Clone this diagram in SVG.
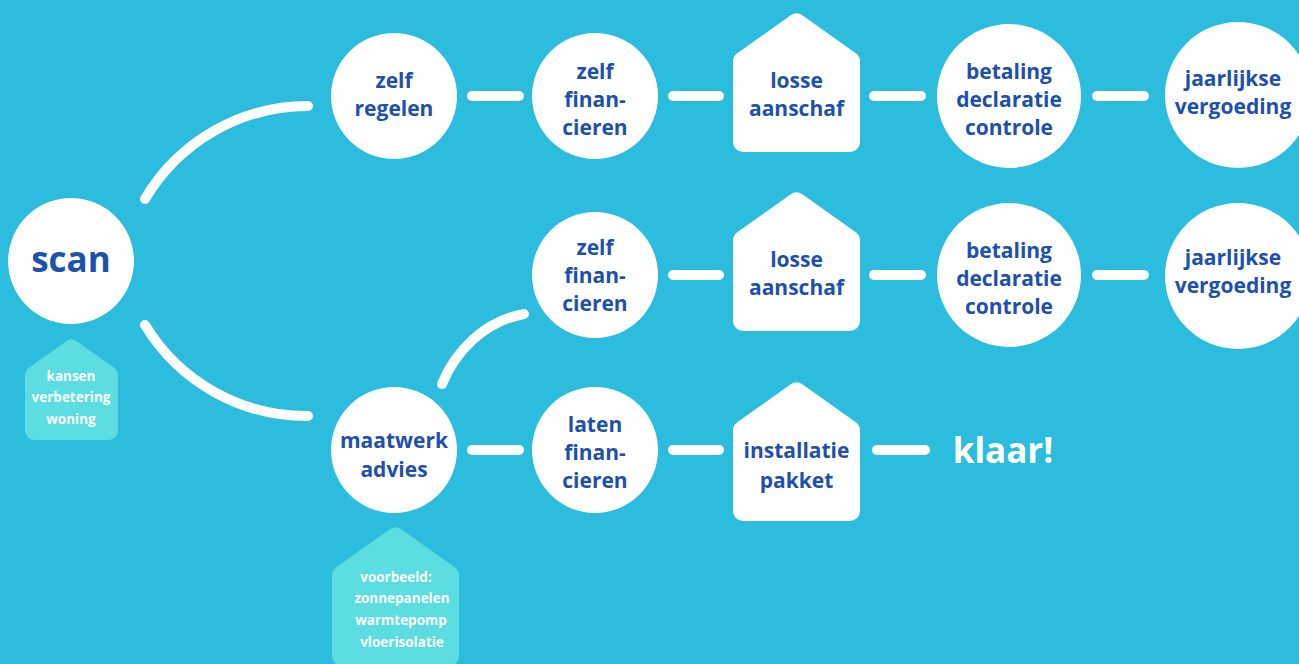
<svg xmlns="http://www.w3.org/2000/svg" xmlns:xlink="http://www.w3.org/1999/xlink" width="1299" height="664" viewBox="0 0 1299 664">
<style>
.bg{fill:#2bbcde}
.node{fill:#ffffff}
.hs{fill:#ffffff;stroke:#ffffff}
.lh{fill:#5bdde2;stroke:#5bdde2}
.t{font-family:"Open Sans","Noto Sans","Liberation Sans",sans-serif;font-weight:700;font-size:21px;fill:#1e50ad;text-anchor:middle}
.s{font-family:"Open Sans","Noto Sans","Liberation Sans",sans-serif;font-weight:700;font-size:13.5px;fill:#ffffff;text-anchor:middle}
.big{font-family:"Open Sans","Noto Sans","Liberation Sans",sans-serif;font-weight:700;font-size:35px;text-anchor:middle}
.c{fill:none;stroke:#ffffff;stroke-width:10;stroke-linecap:round}
</style>
<defs>
<path id="house" d="M10,48.5 L63.5,10.5 L117,48.5 L117,129 L10,129 Z" stroke-width="20" stroke-linejoin="round"/>
<path id="shouse" d="M9,36 L46.5,9.5 L84,36 L84,92 L9,92 Z" stroke-width="18" stroke-linejoin="round"/>
</defs>
<rect class="bg" x="0" y="0" width="1299" height="664"/>
<g id="connectors">
<path class="c" d="M145,199 A189,189 0 0 1 308,106"/>
<path class="c" d="M145,325 A189,189 0 0 0 308,416"/>
<path class="c" d="M442,384 C455,352 484,321 524,314"/>
<line class="c" x1="472" y1="96" x2="519" y2="96"/>
<line class="c" x1="673" y1="96" x2="719" y2="96"/>
<line class="c" x1="874" y1="96" x2="921" y2="96"/>
<line class="c" x1="1097" y1="96" x2="1144" y2="96"/>
<line class="c" x1="673" y1="275" x2="719" y2="275"/>
<line class="c" x1="874" y1="275" x2="921" y2="275"/>
<line class="c" x1="1097" y1="275" x2="1144" y2="275"/>
<line class="c" x1="472" y1="450" x2="519" y2="450"/>
<line class="c" x1="673" y1="450" x2="719" y2="450"/>
<line class="c" x1="877" y1="450" x2="925" y2="450"/>
</g>
<g id="scan">
<circle class="node" cx="71" cy="261" r="63"/>
<text class="big" x="71" y="272" fill="#1e50ad">scan</text>
</g>
<g id="kansen">
<use xlink:href="#shouse" class="lh" x="25" y="339"/>
<text class="s" x="71" y="381">kansen</text>
<text class="s" x="71" y="402">verbetering</text>
<text class="s" x="71" y="424">woning</text>
</g>
<g id="zelf-regelen">
<circle class="node" cx="394" cy="96" r="63"/>
<text class="t" x="394" y="88">zelf</text>
<text class="t" x="394" y="116">regelen</text>
</g>
<g id="zelf-financieren-1">
<circle class="node" cx="595" cy="96" r="63"/>
<text class="t" x="595" y="79">zelf</text>
<text class="t" x="595" y="107">finan-</text>
<text class="t" x="595" y="135">cieren</text>
</g>
<g id="losse-aanschaf-1">
<use xlink:href="#house" class="hs" x="733" y="13"/>
<text class="t" x="796.5" y="88">losse</text>
<text class="t" x="796.5" y="116">aanschaf</text>
</g>
<g id="betaling-1">
<circle class="node" cx="1009" cy="96" r="72"/>
<text class="t" x="1009" y="79">betaling</text>
<text class="t" x="1009" y="107">declaratie</text>
<text class="t" x="1009" y="135">controle</text>
</g>
<g id="jaarlijkse-1">
<circle class="node" cx="1238" cy="95" r="73"/>
<text class="t" x="1233" y="86">jaarlijkse</text>
<text class="t" x="1233" y="114">vergoeding</text>
</g>
<g id="zelf-financieren-2">
<circle class="node" cx="595" cy="275" r="63"/>
<text class="t" x="595" y="255">zelf</text>
<text class="t" x="595" y="283">finan-</text>
<text class="t" x="595" y="311">cieren</text>
</g>
<g id="losse-aanschaf-2">
<use xlink:href="#house" class="hs" x="733" y="192"/>
<text class="t" x="796.5" y="267">losse</text>
<text class="t" x="796.5" y="295">aanschaf</text>
</g>
<g id="betaling-2">
<circle class="node" cx="1009" cy="275" r="72"/>
<text class="t" x="1009" y="258">betaling</text>
<text class="t" x="1009" y="286">declaratie</text>
<text class="t" x="1009" y="314">controle</text>
</g>
<g id="jaarlijkse-2">
<circle class="node" cx="1238" cy="276" r="73"/>
<text class="t" x="1233" y="265">jaarlijkse</text>
<text class="t" x="1233" y="293">vergoeding</text>
</g>
<g id="maatwerk-advies">
<circle class="node" cx="394" cy="450" r="63"/>
<text class="t" x="394" y="448">maatwerk</text>
<text class="t" x="394" y="477">advies</text>
</g>
<g id="voorbeeld">
<use xlink:href="#house" class="lh" x="332" y="527"/>
<text class="s" x="396" y="582">voorbeeld:</text>
<text class="s" x="402" y="603">zonnepanelen</text>
<text class="s" x="401" y="625">warmtepomp</text>
<text class="s" x="402" y="647">vloerisolatie</text>
</g>
<g id="laten-financieren">
<circle class="node" cx="595" cy="450" r="63"/>
<text class="t" x="595" y="432">laten</text>
<text class="t" x="595" y="460">finan-</text>
<text class="t" x="595" y="488">cieren</text>
</g>
<g id="installatie-pakket">
<use xlink:href="#house" class="hs" x="733" y="382"/>
<text class="t" x="796.5" y="458">installatie</text>
<text class="t" x="796.5" y="488">pakket</text>
</g>
<g id="klaar">
<text class="big" x="1003" y="463" fill="#ffffff">klaar!</text>
</g>
</svg>
